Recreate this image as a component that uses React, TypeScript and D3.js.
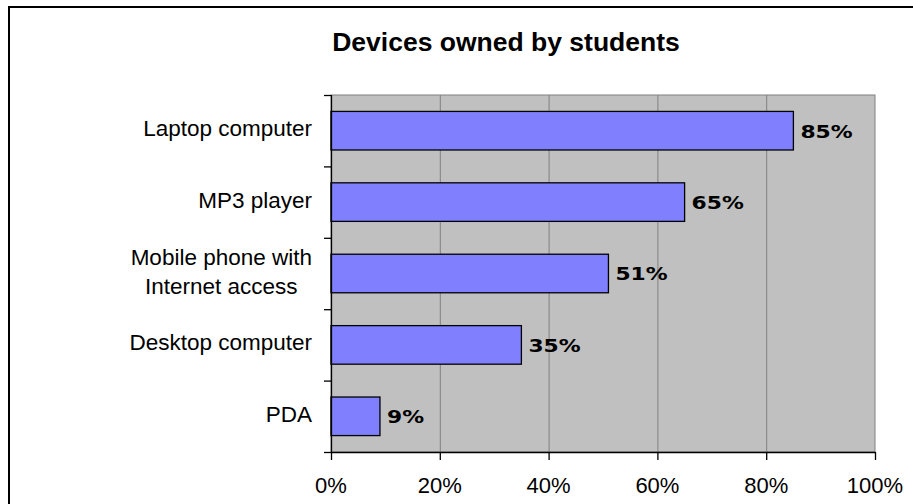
import React, { useEffect, useRef } from "react";
import * as d3 from "d3";

const categories: string[][] = [
  ["Laptop computer"],
  ["MP3 player"],
  ["Mobile phone with", "Internet access"],
  ["Desktop computer"],
  ["PDA"],
];
const values: number[] = [85, 65, 51, 35, 9];
const xTicks: number[] = [0, 20, 40, 60, 80, 100];
const title = "Devices owned by students";

const W = 913;
const H = 504;

export default function App() {
  const ref = useRef<SVGSVGElement | null>(null);

  useEffect(() => {
    const svg = d3.select(ref.current);
    svg.selectAll("*").remove();

    const left = 331, right = 875, top = 95, bottom = 452;
    const x = d3.scaleLinear().domain([0, 100]).range([left, right]);
    const keys = categories.map((_, i) => String(i));
    const y = d3.scaleBand<string>().domain(keys).range([top, bottom]).paddingInner(0.46).paddingOuter(0.23);
    const step = y.step();

    svg.append("rect").attr("width", W).attr("height", H).attr("fill", "#ffffff");

    // outer frame (cropped at right/bottom)
    svg.append("path").attr("d", `M9,${H} L9,7 L${W},7`).attr("fill", "none").attr("stroke", "#000").attr("stroke-width", 2);

    // title
    svg.append("text").attr("x", 506).attr("y", 51).attr("text-anchor", "middle")
      .attr("font-family", "Liberation Sans, Arial, sans-serif").attr("font-weight", "bold")
      .attr("font-size", 26.5).attr("fill", "#000").text(title);

    // plot area
    svg.append("rect").attr("x", left).attr("y", top).attr("width", right - left).attr("height", bottom - top)
      .attr("fill", "#c0c0c0").attr("stroke", "#808080").attr("stroke-width", 1);

    // gridlines
    svg.append("g").selectAll("line").data(xTicks.filter((t) => t > 0 && t < 100)).join("line")
      .attr("x1", (d) => x(d) + 0.5).attr("x2", (d) => x(d) + 0.5)
      .attr("y1", top).attr("y2", bottom).attr("stroke", "#808080").attr("stroke-width", 1);

    // bars
    svg.append("g").selectAll("rect").data(values).join("rect")
      .attr("x", left).attr("y", (_, i) => y(String(i))!)
      .attr("width", (d) => x(d) - left).attr("height", y.bandwidth())
      .attr("fill", "#8080ff").attr("stroke", "#000").attr("stroke-width", 1.3);

    // value labels
    svg.append("g").selectAll("g").data(values).join("g")
      .attr("transform", (d, i) => `translate(${x(d) + 7},${y(String(i))! + y.bandwidth() / 2 + 6.8}) scale(1.18,1)`)
      .append("text")
      .attr("font-family", "DejaVu Sans, Verdana, sans-serif").attr("font-weight", "bold")
      .attr("font-size", 18.5).attr("fill", "#000").text((d) => `${d}%`);

    // axes lines
    svg.append("line").attr("x1", left + 0.5).attr("x2", left + 0.5).attr("y1", top).attr("y2", bottom + 0.5)
      .attr("stroke", "#000").attr("stroke-width", 1.3);
    svg.append("line").attr("x1", left).attr("x2", right + 0.5).attr("y1", bottom + 0.5).attr("y2", bottom + 0.5)
      .attr("stroke", "#000").attr("stroke-width", 1.3);

    // category ticks
    const bounds = d3.range(categories.length + 1).map((i) => top + i * step);
    svg.append("g").selectAll("line").data(bounds).join("line")
      .attr("x1", left - 7).attr("x2", left).attr("y1", (d) => d + 0.5).attr("y2", (d) => d + 0.5)
      .attr("stroke", "#000").attr("stroke-width", 1.3);

    // x ticks
    svg.append("g").selectAll("line").data(xTicks).join("line")
      .attr("x1", (d) => x(d) + 0.5).attr("x2", (d) => x(d) + 0.5).attr("y1", bottom).attr("y2", bottom + 8)
      .attr("stroke", "#000").attr("stroke-width", 1.3);

    // x tick labels
    svg.append("g").selectAll("text").data(xTicks).join("text")
      .attr("x", (d) => x(d)).attr("y", 493).attr("text-anchor", "middle")
      .attr("font-family", "Liberation Sans, Arial, sans-serif").attr("font-size", 22).attr("fill", "#000")
      .text((d) => `${d}%`);

    // category labels
    const labelRight = 312;
    const lineH = 29;
    categories.forEach((lines, i) => {
      const cy = y(String(i))! + y.bandwidth() / 2 + 5.5;
      const g = svg.append("g");
      const n = lines.length;
      const texts = lines.map((line, k) =>
        g.append("text")
          .attr("y", cy + (k - (n - 1) / 2) * lineH)
          .attr("font-family", "Liberation Sans, Arial, sans-serif").attr("font-size", 22.5).attr("fill", "#000")
          .text(line)
      );
      const widths = texts.map((t) => (t.node() as SVGTextElement).getComputedTextLength());
      const maxW = Math.max(...widths);
      const cx = labelRight - maxW / 2;
      texts.forEach((t) => t.attr("x", cx).attr("text-anchor", "middle"));
    });
  }, []);

  return (
    <div style={{ position: "absolute", left: 0, top: 0 }}>
      <svg ref={ref} width={W} height={H} style={{ display: "block" }} />
    </div>
  );
}
